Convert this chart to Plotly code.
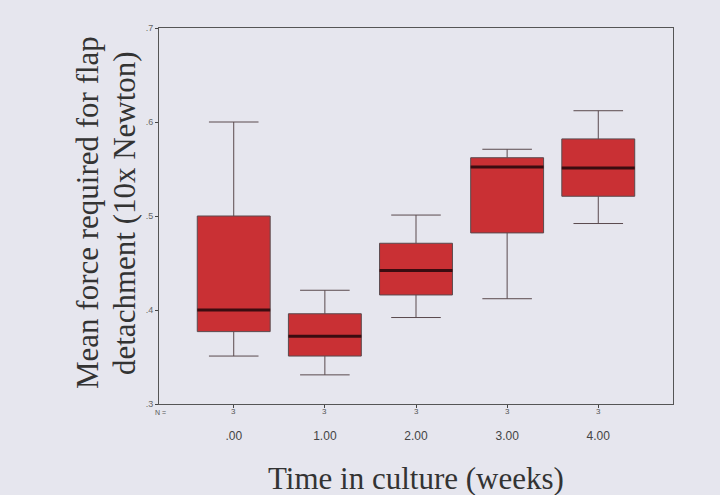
import plotly.graph_objects as go

weeks = [".00", "1.00", "2.00", "3.00", "4.00"]
x_pos = [0, 1, 2, 3, 4]
n_counts = [3, 3, 3, 3, 3]
lower_whisker = [0.351, 0.331, 0.392, 0.412, 0.492]
q1 = [0.377, 0.351, 0.416, 0.482, 0.521]
median = [0.400, 0.372, 0.442, 0.552, 0.551]
q3 = [0.500, 0.396, 0.471, 0.562, 0.582]
upper_whisker = [0.600, 0.421, 0.501, 0.571, 0.612]
y_ticks = [0.3, 0.4, 0.5, 0.6, 0.7]
y_ticktext = [".3", ".4", ".5", ".6", ".7"]

BOX_W = 0.8
bg = "#e6e6ee"

fig = go.Figure()
fig.add_trace(go.Box(
    x=x_pos, q1=q1, median=median, q3=q3,
    lowerfence=lower_whisker, upperfence=upper_whisker,
    width=BOX_W, whiskerwidth=0.68,
    fillcolor="#c93034", line=dict(color="#5a4a4e", width=1),
    boxpoints=False, hoverinfo="skip", showlegend=False,
))
# thick dark median lines
mx, my = [], []
for xi, m in zip(x_pos, median):
    mx += [xi - BOX_W / 2, xi + BOX_W / 2, None]
    my += [m, m, None]
fig.add_trace(go.Scatter(x=mx, y=my, mode="lines",
                         line=dict(color="#3a0c10", width=3),
                         hoverinfo="skip", showlegend=False))

annotations = []
for xi, n in zip(x_pos, n_counts):
    annotations.append(dict(x=xi, xref="x", y=0, yref="paper", yshift=-14,
                            text=str(n), showarrow=False,
                            font=dict(family="Arial", size=8, color="#555")))
annotations.append(dict(x=0, xref="paper", y=0, yref="paper", xshift=-6, yshift=-14,
                        text="N =", showarrow=False,
                        font=dict(family="Arial", size=7, color="#555")))
annotations.append(dict(x=0, xref="paper", y=0.5, yref="paper", xshift=-72, yshift=3,
                        text="Mean force required for flap", textangle=-90, showarrow=False,
                        xanchor="center", yanchor="middle",
                        font=dict(family="Liberation Serif", size=31, color="#333")))
annotations.append(dict(x=0, xref="paper", y=0.5, yref="paper", xshift=-35, yshift=3,
                        text="detachment (10x Newton)", textangle=-90, showarrow=False,
                        xanchor="center", yanchor="middle",
                        font=dict(family="Liberation Serif", size=31, color="#333")))
annotations.append(dict(x=0.5, xref="paper", y=0, yref="paper", yshift=-74,
                        text="Time in culture (weeks)", showarrow=False,
                        xanchor="center", yanchor="middle",
                        font=dict(family="Liberation Serif", size=31, color="#333")))

fig.update_layout(
    width=720, height=495,
    margin=dict(l=159, r=47, t=28, b=91),
    paper_bgcolor=bg, plot_bgcolor=bg,
    annotations=annotations,
    xaxis=dict(range=[-0.82, 4.82], tickvals=x_pos, ticktext=weeks,
               showgrid=False, zeroline=False, showline=True, mirror=True,
               linecolor="#555", linewidth=1, ticks="outside", ticklen=3,
               tickcolor="#444", ticklabelstandoff=18,
               tickfont=dict(family="Arial", size=12, color="#444")),
    yaxis=dict(range=[0.3, 0.7], tickvals=y_ticks, ticktext=y_ticktext,
               showgrid=False, zeroline=False, showline=True, mirror=True,
               linecolor="#555", linewidth=1, ticks="outside", ticklen=3,
               tickcolor="#444",
               tickfont=dict(family="Arial", size=9, color="#666")),
)

fig.write_html("out.html", config={"displayModeBar": False},
               post_script="document.body.style.margin='0';document.body.style.background='%s';" % bg)
